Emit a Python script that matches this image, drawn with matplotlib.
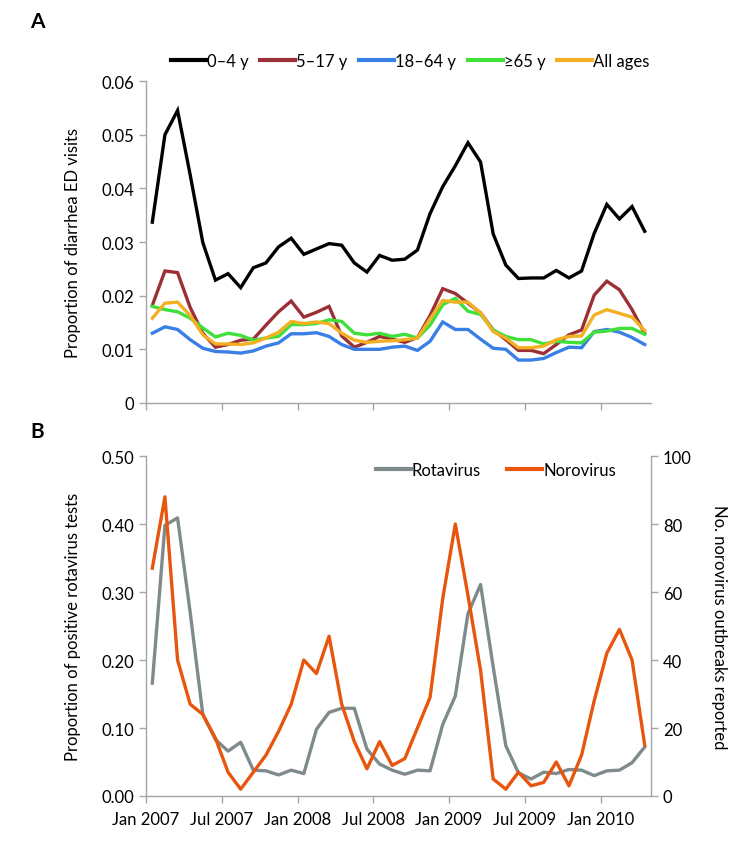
import matplotlib
matplotlib.use("Agg")
import matplotlib.pyplot as plt
import numpy as np

plt.rcParams['font.family'] = ['Lato', 'DejaVu Sans']

months = np.arange(40)
tick_labels = ["Jan 2007", "Jul 2007", "Jan 2008", "Jul 2008", "Jan 2009", "Jul 2009", "Jan 2010"]

age_0_4 = [0.0337, 0.0500, 0.0545, 0.0425, 0.0299, 0.0229, 0.0241, 0.0215, 0.0252, 0.0261,
           0.0291, 0.0307, 0.0277, 0.0287, 0.0297, 0.0294, 0.0261, 0.0244, 0.0275, 0.0266,
           0.0268, 0.0285, 0.0353, 0.0403, 0.0442, 0.0485, 0.0449, 0.0315, 0.0257, 0.0232,
           0.0233, 0.0233, 0.0247, 0.0233, 0.0246, 0.0316, 0.0370, 0.0343, 0.0366, 0.0320]
age_5_17 = [0.0182, 0.0246, 0.0243, 0.0178, 0.0130, 0.0104, 0.0109, 0.0117, 0.0119, 0.0145,
            0.0170, 0.0190, 0.0160, 0.0169, 0.0180, 0.0125, 0.0104, 0.0113, 0.0124, 0.0119,
            0.0113, 0.0122, 0.0163, 0.0213, 0.0204, 0.0186, 0.0168, 0.0136, 0.0118, 0.0098,
            0.0098, 0.0092, 0.0109, 0.0127, 0.0136, 0.0201, 0.0227, 0.0211, 0.0174, 0.0130]
age_18_64 = [0.0130, 0.0142, 0.0137, 0.0118, 0.0102, 0.0096, 0.0095, 0.0093, 0.0097, 0.0106,
             0.0112, 0.0129, 0.0129, 0.0131, 0.0124, 0.0109, 0.0100, 0.0100, 0.0100, 0.0104,
             0.0106, 0.0098, 0.0115, 0.0151, 0.0137, 0.0137, 0.0119, 0.0102, 0.0100, 0.0080,
             0.0080, 0.0083, 0.0094, 0.0104, 0.0103, 0.0133, 0.0137, 0.0132, 0.0122, 0.0109]
age_65 = [0.0180, 0.0174, 0.0170, 0.0158, 0.0140, 0.0123, 0.0130, 0.0126, 0.0117, 0.0121,
          0.0124, 0.0146, 0.0146, 0.0148, 0.0155, 0.0152, 0.0130, 0.0127, 0.0130, 0.0124,
          0.0128, 0.0121, 0.0145, 0.0183, 0.0195, 0.0171, 0.0165, 0.0136, 0.0124, 0.0118,
          0.0118, 0.0110, 0.0115, 0.0113, 0.0112, 0.0132, 0.0134, 0.0139, 0.0139, 0.0128]
all_ages = [0.0158, 0.0186, 0.0188, 0.0163, 0.0127, 0.0110, 0.0110, 0.0109, 0.0112, 0.0121,
            0.0132, 0.0152, 0.0148, 0.0151, 0.0148, 0.0130, 0.0117, 0.0113, 0.0115, 0.0116,
            0.0118, 0.0121, 0.0157, 0.0191, 0.0188, 0.0188, 0.0168, 0.0133, 0.0121, 0.0103,
            0.0103, 0.0106, 0.0118, 0.0124, 0.0125, 0.0164, 0.0174, 0.0167, 0.0160, 0.0135]

rotavirus = [0.166, 0.398, 0.409, 0.270, 0.120, 0.083, 0.066, 0.079, 0.038, 0.037,
             0.031, 0.038, 0.033, 0.098, 0.123, 0.129, 0.129, 0.069, 0.047, 0.038,
             0.032, 0.038, 0.037, 0.105, 0.147, 0.268, 0.311, 0.190, 0.074, 0.034,
             0.025, 0.035, 0.033, 0.039, 0.038, 0.030, 0.037, 0.038, 0.049, 0.072]
norovirus = [67, 88, 40, 27, 24, 17, 7, 2, 7, 12,
             19, 27, 40, 36, 47, 27, 16, 8, 16, 9,
             11, 20, 29, 58, 80, 59, 37, 5, 2, 7,
             3, 4, 10, 3, 12, 28, 42, 49, 40, 15]

W, H = 750, 854
fig = plt.figure(figsize=(W / 100, H / 100), dpi=100)

def px_axes(left, right, top, bottom):
    return fig.add_axes([left / W, 1 - bottom / H, (right - left) / W, (bottom - top) / H])

spine_col = "#A6A6A6"
tick_pos = np.arange(-0.5, 36, 6)
LW = 2.4

# Panel A
axA = px_axes(146, 651, 82, 404)
colors_A = ["#000000", "#9C2F35", "#3A7FE6", "#3FE03A", "#F4B023"]
labels_A = ["0\u20134 y", "5\u201317 y", "18\u201364 y", "\u226565 y", "All ages"]
for series, c, lab in zip([age_0_4, age_5_17, age_18_64, age_65, all_ages], colors_A, labels_A):
    axA.plot(months, series, color=c, lw=LW, label=lab, solid_joinstyle="miter")
axA.set_xlim(-0.5, 39.5)
axA.set_ylim(0, 0.06)
axA.set_yticks(np.arange(0, 0.061, 0.01))
axA.set_yticklabels(["0"] + ["%.2f" % v for v in np.arange(0.01, 0.061, 0.01)])
axA.set_xticks(tick_pos)
axA.set_xticklabels([])
axA.set_ylabel("Proportion of diarrhea ED visits", fontsize=12)
axA.yaxis.set_label_coords(-0.128, 0.5)
leg = axA.legend(loc="center", bbox_to_anchor=(0.523, 1.062), ncol=5, frameon=False,
                 fontsize=12, handlelength=2.1, handletextpad=0.05, columnspacing=0.7)
for l in leg.get_lines():
    l.set_linewidth(3)

# Panel B
axB = px_axes(146, 651, 457, 797)
axB.plot(months, rotavirus, color="#7F8A8C", lw=LW, label="Rotavirus")
axB.set_xlim(-0.5, 39.5)
axB.set_ylim(0, 0.5)
axB.set_yticks(np.arange(0, 0.51, 0.1))
axB.set_yticklabels(["%.2f" % v for v in np.arange(0, 0.51, 0.1)])
axB.set_xticks(tick_pos)
axB.set_xticklabels(tick_labels)
axB.set_ylabel("Proportion of positive rotavirus tests", fontsize=12)
axB.yaxis.set_label_coords(-0.128, 0.5)

axB2 = axB.twinx()
axB2.plot(months, norovirus, color="#E8560E", lw=LW, label="Norovirus")
axB2.set_ylim(0, 100)
axB2.set_yticks(np.arange(0, 101, 20))
axB2.set_ylabel("No. norovirus outbreaks reported", fontsize=12, rotation=270, va="bottom")
axB2.yaxis.set_label_coords(1.118, 0.5)

h1, l1 = axB.get_legend_handles_labels()
h2, l2 = axB2.get_legend_handles_labels()
legB = axB.legend(h1 + h2, l1 + l2, loc="center", bbox_to_anchor=(0.693, 0.96), ncol=2,
                  frameon=False, fontsize=12, handlelength=2.1, handletextpad=0.05,
                  columnspacing=1.6)
for l in legB.get_lines():
    l.set_linewidth(3)

for ax in (axA, axB, axB2):
    for s in ax.spines.values():
        s.set_color(spine_col)
        s.set_linewidth(1.0)
    ax.spines["top"].set_visible(False)
    ax.tick_params(direction="out", length=5, color=spine_col, labelsize=12, width=1.0)
axA.spines["right"].set_visible(False)
axB.spines["right"].set_visible(False)
axB2.spines["left"].set_visible(False)
axB2.spines["bottom"].set_visible(False)
axB.tick_params(axis="x", pad=6)

fig.text(30 / W, 1 - 22 / H, "A", fontsize=15, fontweight="bold", ha="left", va="center")
fig.text(30 / W, 1 - 432 / H, "B", fontsize=15, fontweight="bold", ha="left", va="center")

fig.savefig("out.png", dpi=100)
